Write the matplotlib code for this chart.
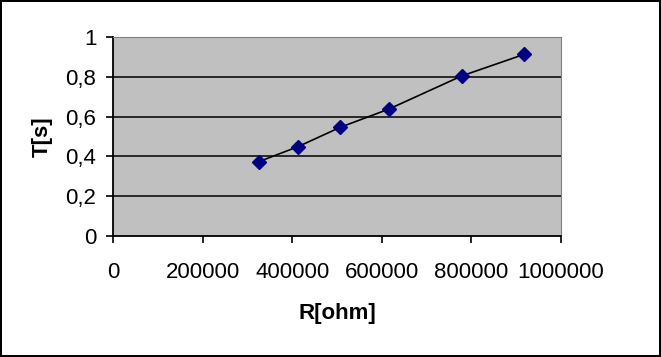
import matplotlib
matplotlib.use('Agg')
import matplotlib.pyplot as plt
from matplotlib.ticker import FuncFormatter

# valores
R = [325000, 413000, 507000, 616000, 778000, 918000]
T = [0.373, 0.449, 0.546, 0.638, 0.804, 0.913]
x_ticks = [0, 200000, 400000, 600000, 800000, 1000000]
y_ticks = [0, 0.2, 0.4, 0.6, 0.8, 1.0]

plt.rcParams['font.family'] = ['Liberation Sans', 'DejaVu Sans']

fig = plt.figure(figsize=(6.61, 3.57), dpi=100)
fig.patch.set_facecolor('white')
fig.patch.set_edgecolor('black')
fig.patch.set_linewidth(1.5)

ax = fig.add_axes([113 / 661, 1 - 236 / 357, 448 / 661, 199 / 357])
ax.set_facecolor('#C0C0C0')

for y in y_ticks[1:]:
    ax.axhline(y, color='black', lw=1.1, zorder=1)

ax.plot(R, T, color='black', lw=1.2, marker='D', markersize=7,
        markerfacecolor='#000080', markeredgecolor='#000080', zorder=3)

ax.set_xlim(0, 1000000)
ax.set_ylim(0, 1)
ax.set_xticks(x_ticks)
ax.set_yticks(y_ticks)
ax.xaxis.set_major_formatter(FuncFormatter(lambda v, p: '%d' % v))
ax.yaxis.set_major_formatter(FuncFormatter(lambda v, p: ('%g' % round(v, 1)).replace('.', ',')))
ax.tick_params(axis='both', direction='out', length=5, width=1.2, labelsize=16, color='black')
ax.tick_params(axis='x', pad=14)
ax.tick_params(axis='y', pad=7)

ax.spines['left'].set_color('black')
ax.spines['bottom'].set_color('black')
ax.spines['left'].set_linewidth(1.3)
ax.spines['bottom'].set_linewidth(1.3)
ax.spines['top'].set_color('#808080')
ax.spines['right'].set_color('#808080')

ax.set_xlabel('R[ohm]', fontsize=16, fontweight='bold', labelpad=14)
ax.set_ylabel('T[s]', fontsize=16, fontweight='bold', labelpad=9)

fig.savefig('out.png', dpi=100, facecolor=fig.get_facecolor(), edgecolor=fig.get_edgecolor())
